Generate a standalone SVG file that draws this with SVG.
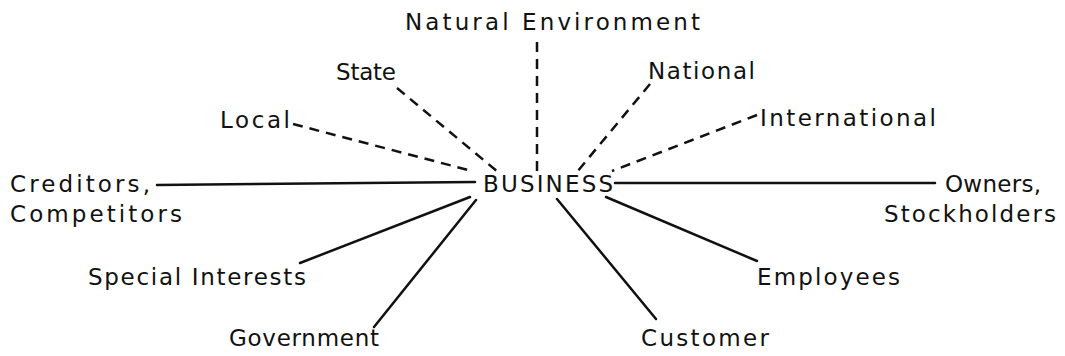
<svg xmlns="http://www.w3.org/2000/svg" width="1065" height="356" viewBox="0 0 1065 356">
<style>
text{font-family:"DejaVu Sans","Open Sans",sans-serif;font-size:23px;fill:#111}
.s{stroke:#111;stroke-width:2.5;fill:none;stroke-linecap:round}
.d{stroke:#111;stroke-width:2.5;fill:none;stroke-dasharray:10 7}
</style>
<rect width="1065" height="356" fill="#fff"/>
<g id="connectors">
<line class="d" x1="537" y1="42" x2="537" y2="176"/>
<line class="d" x1="397" y1="88" x2="498" y2="172"/>
<line class="d" x1="293" y1="124" x2="472" y2="171"/>
<line class="d" x1="650" y1="84" x2="577" y2="172"/>
<line class="d" x1="757" y1="115" x2="612" y2="171"/>
<line class="s" x1="157" y1="185" x2="475" y2="182"/>
<line class="s" x1="615" y1="183" x2="935" y2="183"/>
<line class="s" x1="300" y1="263" x2="470" y2="197"/>
<line class="s" x1="374" y1="327" x2="476" y2="200"/>
<line class="s" x1="557" y1="199" x2="656" y2="319"/>
<line class="s" x1="606" y1="197" x2="757" y2="261"/>
</g>
<g id="business"><text x="483" y="192" textLength="130" lengthAdjust="spacing">BUSINESS</text></g>
<g id="natural"><text x="405" y="30" textLength="295" lengthAdjust="spacing">Natural Environment</text></g>
<g id="state"><text x="336" y="80" textLength="60" lengthAdjust="spacing">State</text></g>
<g id="local"><text x="220" y="128" textLength="70" lengthAdjust="spacing">Local</text></g>
<g id="national"><text x="648" y="79" textLength="107" lengthAdjust="spacing">National</text></g>
<g id="international"><text x="760" y="126" textLength="176" lengthAdjust="spacing">International</text></g>
<g id="creditors"><text x="10" y="192" textLength="140" lengthAdjust="spacing">Creditors,</text><text x="10" y="222" textLength="172" lengthAdjust="spacing">Competitors</text></g>
<g id="owners"><text x="945" y="192" textLength="96" lengthAdjust="spacing">Owners,</text><text x="884" y="222" textLength="172" lengthAdjust="spacing">Stockholders</text></g>
<g id="special"><text x="88" y="285" textLength="218" lengthAdjust="spacing">Special Interests</text></g>
<g id="government"><text x="229" y="346" textLength="150" lengthAdjust="spacing">Government</text></g>
<g id="customer"><text x="641" y="346" textLength="128" lengthAdjust="spacing">Customer</text></g>
<g id="employees"><text x="757" y="285" textLength="143" lengthAdjust="spacing">Employees</text></g>
</svg>
